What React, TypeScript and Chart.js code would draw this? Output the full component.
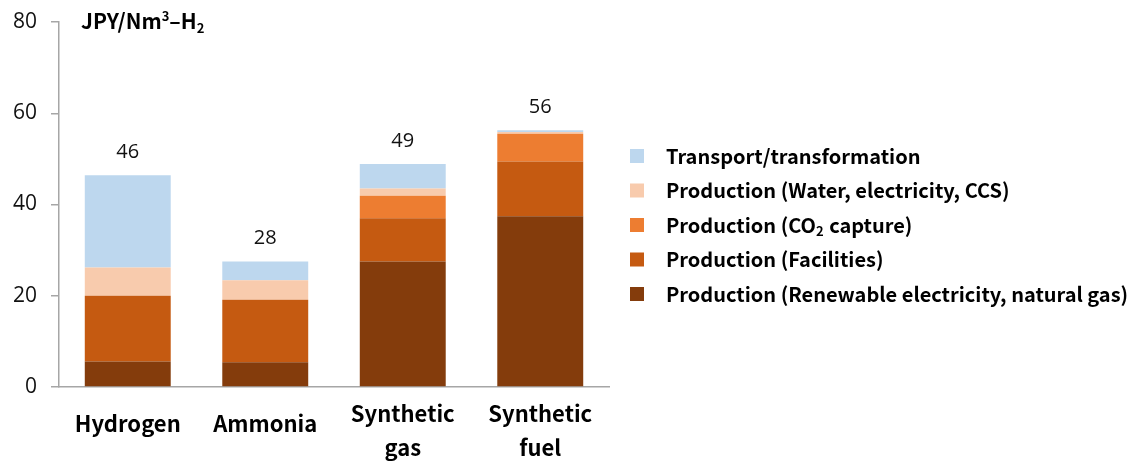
import React, { useEffect, useRef } from "react";
import { Chart, registerables } from "chart.js";

Chart.register(...registerables);

// Categories (each entry is a list of label lines)
const categories: string[][] = [["Hydrogen"], ["Ammonia"], ["Synthetic", "gas"], ["Synthetic", "fuel"]];

// Cost components, JPY/Nm3-H2
const renewableGas = [5.6, 5.4, 27.5, 37.4];
const facilities = [14.4, 13.7, 9.5, 12.0];
const co2Capture = [0, 0, 4.9, 6.1];
const waterElecCcs = [6.2, 4.3, 1.6, 0.4];
const transport = [20.2, 4.1, 5.4, 0.4];

const seriesNames = [
  "Production (Renewable electricity, natural gas)",
  "Production (Facilities)",
  "Production (CO₂ capture)",
  "Production (Water, electricity, CCS)",
  "Transport/transformation",
];
const seriesColors = ["#843C0C", "#C55A11", "#ED7D31", "#F8CBAD", "#BDD7EE"];

const yTicks = [0, 20, 40, 60, 80];

const LABEL_FONT = '"Noto Sans CJK JP", "Noto Sans", sans-serif';
const NUM_FONT = '"Open Sans", "Noto Sans", sans-serif';

const overlayPlugin = {
  id: "overlay",
  afterDatasetsDraw(chart: any) {
    const ctx = chart.ctx;
    const xs = chart.scales.x;
    const ys = chart.scales.y;
    const ds = chart.data.datasets;

    // Totals above each stacked bar
    ctx.save();
    ctx.fillStyle = "#111";
    ctx.font = `20px ${NUM_FONT}`;
    ctx.textAlign = "center";
    ctx.textBaseline = "middle";
    categories.forEach((_, i) => {
      let total = 0;
      ds.forEach((d: any) => (total += d.data[i]));
      const x = xs.getPixelForValue(i);
      const y = ys.getPixelForValue(total);
      ctx.fillText(String(Math.round(total)), x, y - 23);
    });

    // Category labels
    ctx.font = `bold 22px ${LABEL_FONT}`;
    ctx.textBaseline = "alphabetic";
    ctx.fillStyle = "#000";
    categories.forEach((lines, i) => {
      const x = xs.getPixelForValue(i);
      if (lines.length === 1) {
        ctx.fillText(lines[0], x, chart.chartArea.bottom + 45);
      } else {
        lines.forEach((t, k) => ctx.fillText(t, x, chart.chartArea.bottom + 35 + k * 34));
      }
    });

    // Unit title
    ctx.textAlign = "left";
    const tx = chart.chartArea.left + 22;
    const ty = chart.chartArea.top + 7;
    ctx.font = `bold 21px ${LABEL_FONT}`;
    let cx = tx;
    ctx.fillText("JPY/Nm", cx, ty);
    cx += ctx.measureText("JPY/Nm").width;
    ctx.font = `bold 13px ${LABEL_FONT}`;
    ctx.fillText("3", cx, ty - 8);
    cx += ctx.measureText("3").width;
    ctx.font = `bold 21px ${LABEL_FONT}`;
    ctx.fillText("–H", cx, ty);
    cx += ctx.measureText("–H").width;
    ctx.font = `bold 13px ${LABEL_FONT}`;
    ctx.fillText("2", cx, ty + 4);

    // Legend, top entry = top of stack
    const lx = chart.chartArea.right + 21;
    const rowTop = 156;
    const rowGap = 34.5;
    ctx.font = `bold 20px ${LABEL_FONT}`;
    ctx.textBaseline = "middle";
    for (let k = ds.length - 1, r = 0; k >= 0; k--, r++) {
      const y = rowTop + r * rowGap;
      ctx.fillStyle = ds[k].backgroundColor;
      ctx.fillRect(lx, y - 7, 14, 14);
      ctx.fillStyle = "#000";
      const label: string = ds[k].label;
      if (label.includes("CO₂")) {
        const [a, b] = label.split("₂");
        let px = lx + 36;
        ctx.fillText(a, px, y);
        px += ctx.measureText(a).width;
        ctx.font = `bold 13px ${LABEL_FONT}`;
        ctx.fillText("2", px, y + 6);
        px += ctx.measureText("2").width + 1;
        ctx.font = `bold 20px ${LABEL_FONT}`;
        ctx.fillText(b, px, y);
      } else {
        ctx.fillText(label, lx + 36, y);
      }
    }
    ctx.restore();
  },
};

export default function App() {
  const ref = useRef<HTMLCanvasElement | null>(null);

  useEffect(() => {
    if (!ref.current) return;
    const values = [renewableGas, facilities, co2Capture, waterElecCcs, transport];
    const chart = new Chart(ref.current, {
      type: "bar",
      data: {
        labels: categories.map((c) => c.join(" ")),
        datasets: values.map((v, k) => ({
          label: seriesNames[k],
          data: v,
          backgroundColor: seriesColors[k],
          borderWidth: 0,
          categoryPercentage: 1,
          barPercentage: 0.625,
        })),
      },
      options: {
        animation: false,
        responsive: false,
        maintainAspectRatio: false,
        layout: { padding: { top: 22, right: 529, left: 0, bottom: 0 } },
        plugins: { legend: { display: false }, tooltip: { enabled: false } },
        scales: {
          x: {
            stacked: true,
            grid: { display: false },
            border: { display: true, color: "#A6A6A6", width: 1.5 },
            ticks: { display: false },
            afterFit: (s: any) => {
              s.height = 74;
            },
          },
          y: {
            stacked: true,
            min: 0,
            max: 80,
            afterBuildTicks: (s: any) => {
              s.ticks = yTicks.map((v) => ({ value: v }));
            },
            grid: {
              display: true,
              drawOnChartArea: false,
              drawTicks: true,
              tickLength: 8,
              color: "#A6A6A6",
              lineWidth: 1.5,
            },
            border: { display: true, color: "#A6A6A6", width: 1.5 },
            ticks: {
              color: "#111",
              padding: 14,
              font: { family: NUM_FONT, size: 21 },
            },
            afterFit: (s: any) => {
              s.width = 59;
              s.paddingTop = 0;
              s.paddingBottom = 0;
            },
          },
        },
      },
      plugins: [overlayPlugin],
    });
    return () => chart.destroy();
  }, []);

  return (
    <div style={{ position: "fixed", left: 0, top: 0, width: 1138, height: 461, background: "#fff" }}>
      <canvas ref={ref} width={1138} height={461} style={{ display: "block" }} />
    </div>
  );
}
